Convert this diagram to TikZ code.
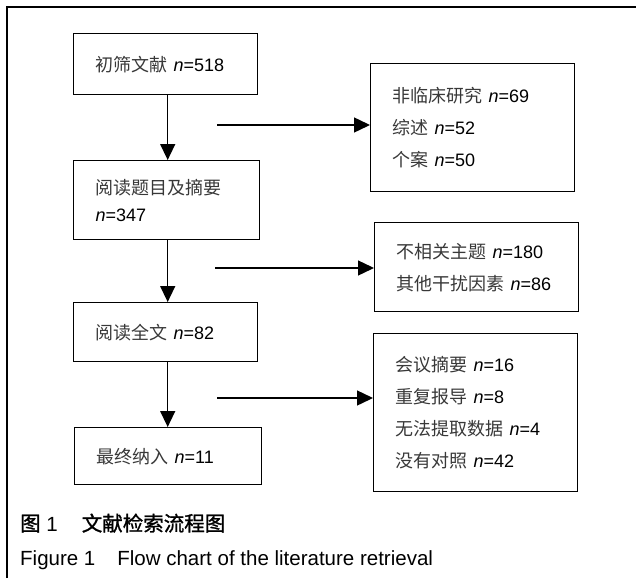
\documentclass[tikz,border=0pt]{standalone}
\usepackage{fontspec}
\setmainfont{Liberation Sans}
\newfontfamily\cjk{Noto Sans CJK SC}
\newfontfamily\cjkb[FakeBold=1.2]{Noto Sans CJK SC}
\usetikzlibrary{arrows.meta}
\newcommand\zh[1]{{\cjk\color{black!78}#1}}
\newcommand\nn{\textit{n}}
\begin{document}
\begin{tikzpicture}[x=1pt,y=-1pt,
  box/.style={draw, line width=1.4pt, inner xsep=22pt, inner ysep=0pt,
    align=left, anchor=north west, font=\fontsize{18}{32}\selectfont},
  arr/.style={line width=1.4pt, -{Triangle[length=16pt,width=15pt]}},
  captext/.style={inner sep=0pt, anchor=base west, font=\fontsize{20.5}{24}\selectfont}]
\useasboundingbox (0,0) rectangle (636,578);
% frame
\draw[line width=2pt] (7,578) -- (7,7) -- (636,7);
% main column
\node[box, text width=140pt, minimum height=61pt] (b1) at (73,33) {\zh{初筛文献} \nn=518};
\node[box, text width=142pt, minimum height=79pt, font=\fontsize{18}{27}\selectfont] (b2) at (73,160) {\zh{阅读题目及摘要}\\\nn=347};
\node[box, text width=140pt, minimum height=59pt] (b3) at (73,302) {\zh{阅读全文} \nn=82};
\node[box, text width=143pt, minimum height=57pt] (b4) at (74,427) {\zh{最终纳入} \nn=11};
% exclusion boxes
\node[box, text width=160pt, minimum height=128pt] (r1) at (370,63) {\zh{非临床研究} \nn=69\\\zh{综述} \nn=52\\\zh{个案} \nn=50};
\node[box, text width=160pt, minimum height=89pt] (r2) at (374,222) {\zh{不相关主题} \nn=180\\\zh{其他干扰因素} \nn=86};
\node[box, text width=160pt, minimum height=158pt] (r3) at (373,333) {\zh{会议摘要} \nn=16\\\zh{重复报导} \nn=8\\\zh{无法提取数据} \nn=4\\\zh{没有对照} \nn=42};
% vertical arrows
\coordinate (v1) at ([xshift=2pt]b1.south);
\coordinate (v2) at ([xshift=1pt]b2.south);
\coordinate (v3) at ([xshift=2pt]b3.south);
\draw[arr] (v1) -- (v1 |- b2.north);
\draw[arr] (v2) -- (v2 |- b3.north);
\draw[arr] (v3) -- (v3 |- b4.north);
% horizontal arrows
\coordinate (h1) at (217,125);
\coordinate (h2) at (215,268);
\coordinate (h3) at (217,398);
\draw[arr] (h1) -- (h1 -| r1.west);
\draw[arr] (h2) -- (h2 -| r2.west);
\draw[arr] (h3) -- (h3 -| r3.west);
% captions
\node[captext] (c1) at (20,531) {{\cjkb 图} 1\hspace{24pt}{\cjkb 文献检索流程图}};
\node[captext] (c2) at (20,565) {Figure 1\hspace{22pt}Flow chart of the literature retrieval};
\end{tikzpicture}
\end{document}
